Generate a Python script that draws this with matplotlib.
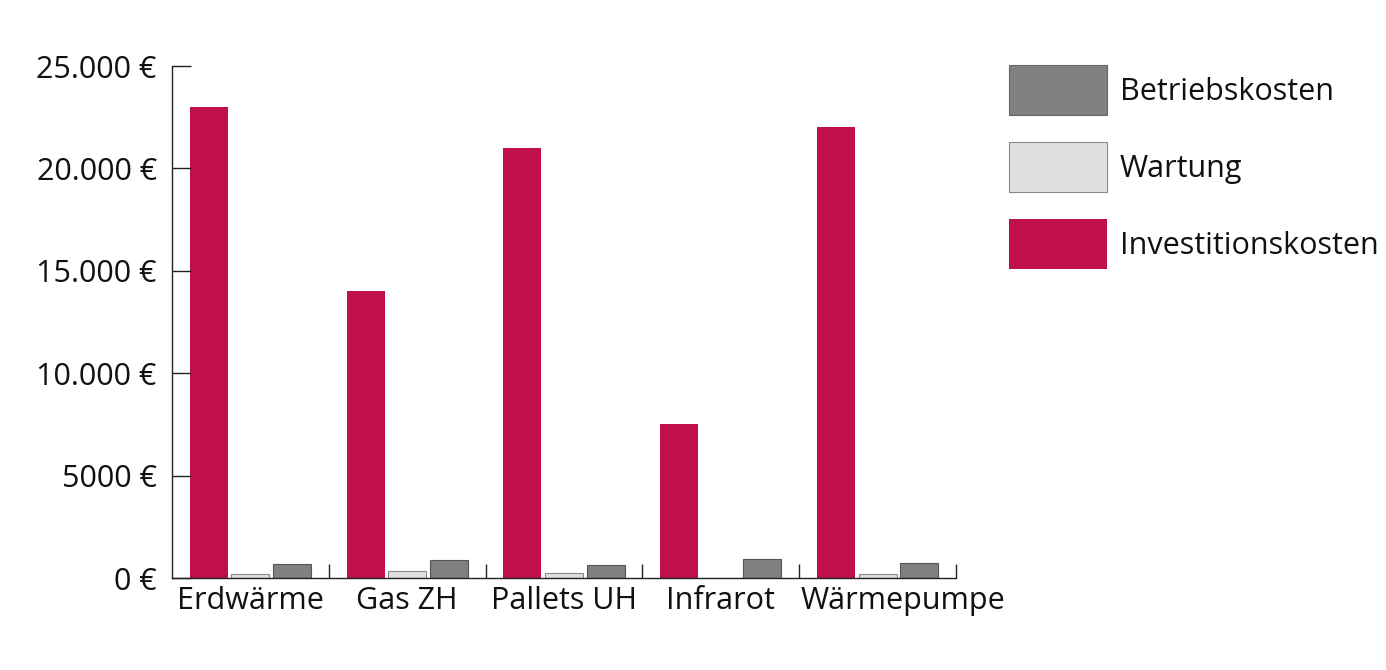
import matplotlib.pyplot as plt
from matplotlib.patches import Patch
from matplotlib.transforms import ScaledTranslation
import numpy as np

# --- data ---
categories = ['Erdwärme', 'Gas ZH', 'Pallets UH', 'Infrarot', 'Wärmepumpe']
investitionskosten = [23000, 14000, 21000, 7500, 22000]
wartung = [200, 340, 250, 0, 200]
betriebskosten = [670, 900, 620, 930, 750]

y_ticks = [0, 5000, 10000, 15000, 20000, 25000]
y_labels = ['0 €', '5000 €', '10.000 €', '15.000 €', '20.000 €', '25.000 €']

# --- style ---
plt.rcParams['font.family'] = ['Open Sans', 'DejaVu Sans']
FS = 22
c_inv = '#C0104A'
c_wart = '#E0E0E0'
c_betr = '#808080'
line_c = '#222222'
txt_c = '#111111'

fig = plt.figure(figsize=(13.86, 6.70), dpi=100)
ax = fig.add_axes([172 / 1386, 92 / 670, (956 - 172) / 1386, (578 - 66) / 670])

x = np.arange(len(categories))
w = 0.242
off = 0.265
ax.bar(x - off, investitionskosten, w, color=c_inv, linewidth=0)
ax.bar(x, wartung, w, color=c_wart, edgecolor='#8a8a8a', linewidth=0.8)
ax.bar(x + off, betriebskosten, w, color=c_betr, edgecolor='#555555', linewidth=0.8)

ax.set_xlim(-0.5, len(categories) - 0.5)
ax.set_ylim(0, 25000)

ax.set_xticks(x)
ax.set_xticklabels(categories, fontsize=FS, color=txt_c)
ax.set_xticks(np.arange(0.5, len(categories), 1), minor=True)
ax.tick_params(axis='x', which='major', length=0, pad=6)
ax.tick_params(axis='x', which='minor', direction='in', length=10, width=1, color=line_c)

# last label sits a bit to the right so it doesn't run into "Infrarot"
last = ax.get_xticklabels()[-1]
last.set_transform(last.get_transform() + ScaledTranslation(0.25, 0, fig.dpi_scale_trans))

ax.set_yticks(y_ticks)
ax.set_yticklabels(y_labels, fontsize=FS, color=txt_c)
ax.tick_params(axis='y', direction='in', length=14, width=1, color=line_c, pad=11)

for s in ['top', 'right']:
    ax.spines[s].set_visible(False)
for s in ['left', 'bottom']:
    ax.spines[s].set_color(line_c)
    ax.spines[s].set_linewidth(1)

handles = [
    Patch(facecolor=c_betr, edgecolor='#666666', linewidth=0.8, label='Betriebskosten'),
    Patch(facecolor=c_wart, edgecolor='#8a8a8a', linewidth=0.8, label='Wartung'),
    Patch(facecolor=c_inv, edgecolor='none', label='Investitionskosten'),
]
fs_px = FS * 100 / 72
# legend patch height is fs * (0.65 * handleheight + 0.245)
hh = (50 / fs_px - 0.245) / 0.65
leg = fig.legend(handles=handles, loc='upper left',
                 bbox_to_anchor=(1009 / 1386, 1 - 65 / 670),
                 frameon=False, fontsize=FS, borderpad=0, borderaxespad=0,
                 handlelength=98 / fs_px, handleheight=hh,
                 labelspacing=27 / fs_px, handletextpad=13 / fs_px)
for t in leg.get_texts():
    t.set_color(txt_c)

fig.savefig('out.png', dpi=100)
